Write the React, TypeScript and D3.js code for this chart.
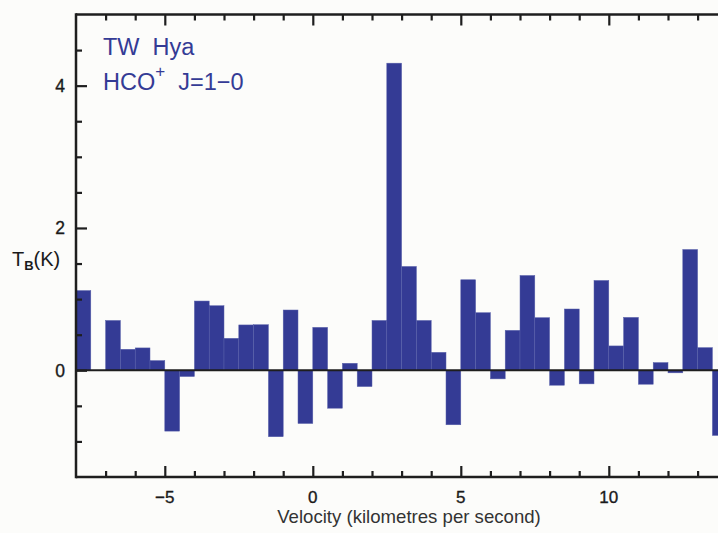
import React, { useEffect, useRef } from "react";
import * as d3 from "d3";

// HCO+ J=1-0 spectrum toward TW Hya, 0.5 km/s channels (left edge of each channel)
const channelStart = [
  -8, -7.5, -7, -6.5, -6, -5.5, -5, -4.5, -4, -3.5, -3, -2.5, -2, -1.5, -1, -0.5,
  0, 0.5, 1, 1.5, 2, 2.5, 3, 3.5, 4, 4.5, 5, 5.5, 6, 6.5, 7, 7.5, 8, 8.5, 9, 9.5,
  10, 10.5, 11, 11.5, 12, 12.5, 13, 13.5,
];
const brightnessK = [
  1.12, 0, 0.7, 0.295, 0.314, 0.136, -0.855, -0.088, 0.973, 0.907, 0.449, 0.637,
  0.64, -0.934, 0.847, -0.748, 0.603, -0.533, 0.098, -0.229, 0.7, 4.316, 1.459,
  0.7, 0.252, -0.766, 1.272, 0.809, -0.121, 0.561, 1.332, 0.739, -0.21, 0.861,
  -0.191, 1.262, 0.342, 0.743, -0.196, 0.108, -0.036, 1.697, 0.318, -0.916,
];
const channelWidth = 0.5;

const xMajorTicks = [-5, 0, 5, 10];
const xMinorTicks = [-7, -6, -4, -3, -2, -1, 1, 2, 3, 4, 6, 7, 8, 9, 11, 12, 13, 14];
const yMajorTicks = [0, 2, 4];
const yMinorTicks = [-1, -0.5, 0.5, 1, 1.5, 2.5, 3, 3.5, 4.5];

const W = 718;
const H = 533;
const BLUE = "#343b95";
const INK = "#1e1e1e";
const FONT = "'Liberation Sans', Arial, Helvetica, sans-serif";

const fmt = (v: number) => (v < 0 ? "\u2212" + Math.abs(v) : String(v));

const x = d3.scaleLinear().domain([-8, 14]).range([76, 76 + 22 * 29.6]);
const y = d3.scaleLinear().domain([-1.5, 5]).range([477, 14.5]);

export default function App() {
  const ref = useRef<SVGSVGElement | null>(null);

  useEffect(() => {
    const svg = d3.select(ref.current);
    svg.selectAll("*").remove();
    const left = x(-8);
    const right = x(14);
    const top = y(5);
    const bottom = y(-1.5);

    svg.append("rect").attr("width", W).attr("height", H).attr("fill", "#fcfcfa");

    // spectrum channels
    svg
      .append("g")
      .selectAll("rect")
      .data(channelStart.map((c, i) => ({ c, t: brightnessK[i] })))
      .join("rect")
      .attr("x", (d) => x(d.c))
      .attr("width", (d) => x(d.c + channelWidth) - x(d.c))
      .attr("y", (d) => y(Math.max(0, d.t)))
      .attr("height", (d) => Math.abs(y(0) - y(d.t)))
      .attr("fill", BLUE)
      .attr("stroke", "#5860aa")
      .attr("stroke-width", 0.5);

    // zero baseline
    svg
      .append("line")
      .attr("x1", left)
      .attr("x2", right)
      .attr("y1", y(0))
      .attr("y2", y(0))
      .attr("stroke", INK)
      .attr("stroke-width", 2);

    const styleAxis = (g: any, width: number) => {
      g.selectAll(".domain").remove();
      g.selectAll(".tick line").attr("stroke", INK).attr("stroke-width", width);
    };

    // bottom axis: major ticks with labels, minor ticks without
    svg
      .append("g")
      .attr("transform", `translate(0,${bottom})`)
      .call(d3.axisTop(x).tickValues(xMinorTicks).tickSize(6).tickFormat(() => ""))
      .call((g) => styleAxis(g, 2.2));
    svg
      .append("g")
      .attr("transform", `translate(0,${bottom})`)
      .call(d3.axisTop(x).tickValues(xMajorTicks).tickSize(11).tickFormat(() => ""))
      .call((g) => styleAxis(g, 2.2));
    // top axis
    svg
      .append("g")
      .attr("transform", `translate(0,${top})`)
      .call(d3.axisBottom(x).tickValues(xMinorTicks).tickSize(6).tickFormat(() => ""))
      .call((g) => styleAxis(g, 2.2));
    svg
      .append("g")
      .attr("transform", `translate(0,${top})`)
      .call(d3.axisBottom(x).tickValues(xMajorTicks).tickSize(11).tickFormat(() => ""))
      .call((g) => styleAxis(g, 2.2));
    // left axis
    svg
      .append("g")
      .attr("transform", `translate(${left},0)`)
      .call(d3.axisRight(y).tickValues(yMinorTicks).tickSize(6).tickFormat(() => ""))
      .call((g) => styleAxis(g, 2.2));
    svg
      .append("g")
      .attr("transform", `translate(${left},0)`)
      .call(d3.axisRight(y).tickValues(yMajorTicks).tickSize(11).tickFormat(() => ""))
      .call((g) => styleAxis(g, 2.2));

    // frame: left, top, bottom
    const frame = [
      [left, top - 1.2, left, bottom + 1.2],
      [left, top, right, top],
      [left, bottom, right, bottom],
    ];
    svg
      .append("g")
      .selectAll("line")
      .data(frame)
      .join("line")
      .attr("x1", (d) => d[0])
      .attr("y1", (d) => d[1])
      .attr("x2", (d) => d[2])
      .attr("y2", (d) => d[3])
      .attr("stroke", INK)
      .attr("stroke-width", 2.5);

    // tick labels
    svg
      .append("g")
      .selectAll("text")
      .data(xMajorTicks)
      .join("text")
      .attr("x", (d) => x(d))
      .attr("y", 503)
      .attr("text-anchor", "middle")
      .attr("font-family", FONT)
      .attr("font-size", 17)
      .attr("fill", "#1a1a1a")
      .attr("stroke", "#1a1a1a")
      .attr("stroke-width", 0.35)
      .text((d) => fmt(d));
    svg
      .append("g")
      .selectAll("text")
      .data(yMajorTicks)
      .join("text")
      .attr("x", 65)
      .attr("y", (d) => y(d) + 6.3)
      .attr("text-anchor", "end")
      .attr("font-family", FONT)
      .attr("font-size", 17.5)
      .attr("fill", "#1a1a1a")
      .attr("stroke", "#1a1a1a")
      .attr("stroke-width", 0.35)
      .text((d) => fmt(d));

    // axis titles
    const yt = svg
      .append("text")
      .attr("x", 12)
      .attr("y", 266)
      .attr("font-family", FONT)
      .attr("font-size", 20)
      .attr("fill", "#1a1a1a");
    yt.append("tspan").text("T");
    yt.append("tspan").attr("font-size", 13).attr("font-weight", "bold").attr("dy", 4).text("B");
    yt.append("tspan").attr("dy", -4).text("(K)");

    svg
      .append("text")
      .attr("x", 409)
      .attr("y", 523)
      .attr("text-anchor", "middle")
      .attr("font-family", FONT)
      .attr("font-size", 18.6)
      .attr("fill", "#333")
      .text("Velocity (kilometres per second)");

    // source and line labels
    svg
      .append("text")
      .attr("x", 103)
      .attr("y", 54.5)
      .attr("font-family", FONT)
      .attr("font-size", 23.5)
      .attr("fill", BLUE)
      .style("white-space", "pre")
      .text("TW  Hya");
    const ln = svg
      .append("text")
      .attr("x", 103)
      .attr("y", 90)
      .attr("font-family", FONT)
      .attr("font-size", 23.5)
      .attr("fill", BLUE)
      .style("white-space", "pre");
    ln.append("tspan").text("HCO");
    ln.append("tspan").attr("font-size", 17).attr("dy", -13).text("+");
    ln.append("tspan").attr("dy", 13).text("  J=1\u22120");
  }, []);

  return (
    <svg
      ref={ref}
      width={W}
      height={H}
      style={{ position: "absolute", left: 0, top: 0, display: "block" }}
    />
  );
}
